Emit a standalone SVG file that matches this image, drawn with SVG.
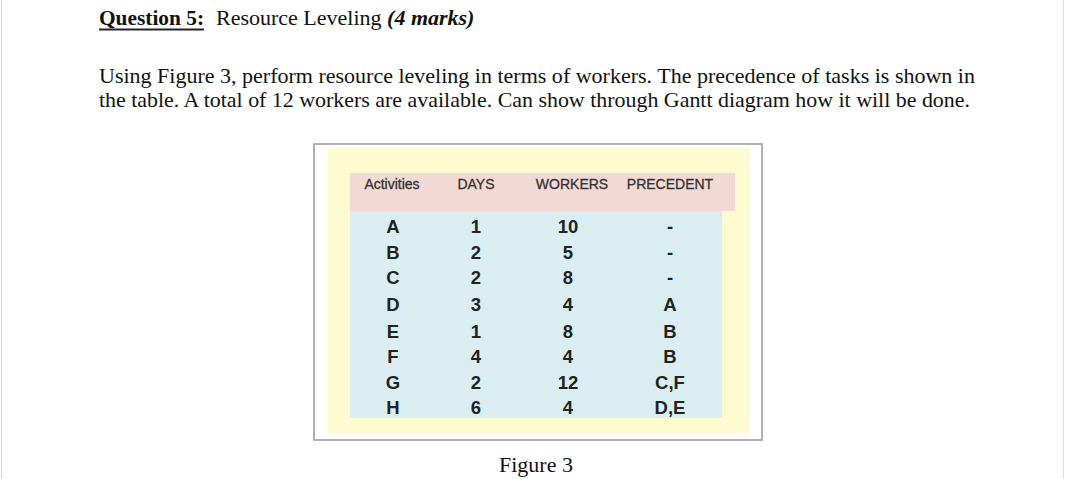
<svg xmlns="http://www.w3.org/2000/svg" width="1067" height="479" viewBox="0 0 1067 479">
<style>
.t{font-family:"Liberation Serif",serif;font-size:22px;fill:#111}
.h{font-family:"Liberation Sans",sans-serif;font-size:14px;fill:#333;text-anchor:middle;stroke:#333;stroke-width:0.3}
.c{font-family:"Liberation Sans",sans-serif;font-size:18.5px;font-weight:bold;fill:#222;text-anchor:middle}
</style>
<rect width="1067" height="479" fill="#fff"/>
<line x1="1.5" y1="0" x2="1.5" y2="479" stroke="#ddd"/>
<line x1="1063.5" y1="0" x2="1063.5" y2="479" stroke="#ddd"/>
<text class="t" x="99" y="25" font-weight="bold" textLength="105" lengthAdjust="spacingAndGlyphs">Question 5:</text>
<text class="t" x="216" y="25">Resource Leveling <tspan font-weight="bold" font-style="italic">(4 marks)</tspan></text>
<line x1="99" y1="29.5" x2="204" y2="29.5" stroke="#222" stroke-width="2"/>
<text class="t" x="99" y="83" textLength="876" lengthAdjust="spacingAndGlyphs">Using Figure 3, perform resource leveling in terms of workers. The precedence of tasks is shown in</text>
<text class="t" x="99" y="107" textLength="871" lengthAdjust="spacingAndGlyphs">the table. A total of 12 workers are available. Can show through Gantt diagram how it will be done.</text>
<rect x="314" y="144" width="448" height="296" fill="#fff" stroke="#999" stroke-width="1.5"/>
<rect x="328" y="148" width="422" height="285" fill="#fdfbcf"/>
<rect x="350" y="173" width="385" height="38" fill="#f2d9d3"/>
<rect x="350" y="211" width="372" height="207" fill="#daeef2"/>
<text class="h" x="392" y="189">Activities</text>
<text class="h" x="476" y="189">DAYS</text>
<text class="h" x="572" y="189">WORKERS</text>
<text class="h" x="670" y="189">PRECEDENT</text>
<g>
<text class="c" x="393" y="233">A</text><text class="c" x="476" y="233">1</text><text class="c" x="568" y="233">10</text><text class="c" x="670" y="233">-</text>
<text class="c" x="393" y="259">B</text><text class="c" x="476" y="259">2</text><text class="c" x="568" y="259">5</text><text class="c" x="670" y="259">-</text>
<text class="c" x="393" y="284">C</text><text class="c" x="476" y="284">2</text><text class="c" x="568" y="284">8</text><text class="c" x="670" y="284">-</text>
<text class="c" x="393" y="311">D</text><text class="c" x="476" y="311">3</text><text class="c" x="568" y="311">4</text><text class="c" x="670" y="311">A</text>
<text class="c" x="393" y="338">E</text><text class="c" x="476" y="338">1</text><text class="c" x="568" y="338">8</text><text class="c" x="670" y="338">B</text>
<text class="c" x="393" y="363">F</text><text class="c" x="476" y="363">4</text><text class="c" x="568" y="363">4</text><text class="c" x="670" y="363">B</text>
<text class="c" x="393" y="389">G</text><text class="c" x="476" y="389">2</text><text class="c" x="568" y="389">12</text><text class="c" x="670" y="389">C,F</text>
<text class="c" x="393" y="414">H</text><text class="c" x="476" y="414">6</text><text class="c" x="568" y="414">4</text><text class="c" x="670" y="414">D,E</text>
</g>
<text class="t" x="536" y="472" text-anchor="middle">Figure 3</text>
</svg>
